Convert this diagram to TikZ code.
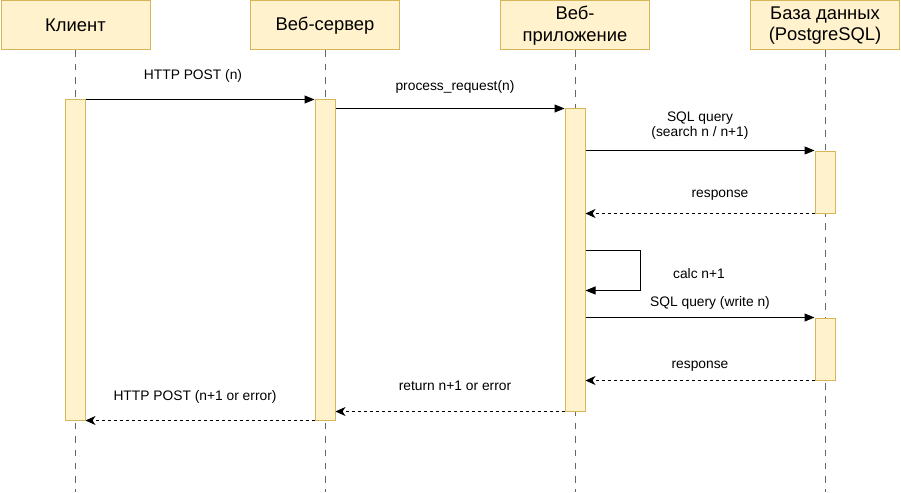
\documentclass[tikz,border=0pt]{standalone}
\usepackage{fontspec}
\setmainfont{Liberation Sans}
\usetikzlibrary{arrows.meta}
\definecolor{boxFill}{HTML}{FFF2CC}
\definecolor{boxLine}{HTML}{D6B656}
\definecolor{lifeGray}{HTML}{666666}

\begin{document}
\begin{tikzpicture}[x=1pt, y=-1pt,
    header/.style={draw=boxLine, fill=boxFill, line width=1pt, minimum width=149pt,
      minimum height=49pt, inner sep=0pt, align=center,
      font=\fontsize{18.4}{21.5}\selectfont},
    activation/.style={draw=boxLine, fill=boxFill, line width=1pt, minimum width=20pt, inner sep=0pt},
    lifeline/.style={lifeGray, line width=1pt, dash pattern=on 6.5pt off 6.8pt},
    msg/.style={line width=1pt, -{Triangle[length=10pt, width=8pt]}},
    reply/.style={line width=1pt, dash pattern=on 3pt off 3pt, -{Stealth[length=10pt, width=9pt, inset=3pt]}},
    lbl/.style={font=\fontsize{13.8}{15.6}\selectfont, align=center, inner sep=0pt}]
  \useasboundingbox (0,0) rectangle (901,492);

  % participants
  \node[header] (client) at (75.5,25.5) {Клиент};
  \node[header] (server) at (325,25.5) {Веб-сервер};
  \node[header] (app) at (575,25.5) {Веб-\\приложение};
  \node[header] (db) at (825,25.5) {База данных\\(PostgreSQL)};

  \coordinate (bottom) at (0,492);
  \draw[lifeline] (client.south) -- (client.south |- bottom);
  \draw[lifeline] (server.south) -- (server.south |- bottom);
  \draw[lifeline] (app.south) -- (app.south |- bottom);
  \draw[lifeline] (db.south) -- (db.south |- bottom);

  % activations
  \node[activation, minimum height=320pt] (clientAct) at (75,260) {};
  \node[activation, minimum height=320pt] (serverAct) at (325,260) {};
  \node[activation, minimum height=302pt] (appAct) at (575,260) {};
  \node[activation, minimum height=62pt] (dbAct1) at (825,182) {};
  \node[activation, minimum height=62pt] (dbAct2) at (825,349) {};

  % messages
  \draw[msg] (clientAct.north east) -- (serverAct.north west);
  \node[lbl] (m1) at (193,76) {HTTP POST (n)};

  \draw[msg] (serverAct.east |- appAct.north) -- (appAct.north west);
  \node[lbl] (m2) at (455,87) {process\_request(n)};

  \draw[msg] (appAct.east |- dbAct1.north) -- (dbAct1.north west);
  \node[lbl] (m3) at (700,125.5) {SQL query\\(search n / n+1)};

  \draw[reply] (dbAct1.south west) -- (appAct.east |- dbAct1.south);
  \node[lbl] (m4) at (720,195) {response};

  \coordinate (loopA) at (640,250);
  \coordinate (loopB) at (640,290.5);
  \draw[msg] (appAct.east |- loopA) -- (loopA) -- (loopB) -- (appAct.east |- loopB);
  \node[lbl] (m5) at (699,274) {calc n+1};

  \draw[msg] (appAct.east |- dbAct2.north) -- (dbAct2.north west);
  \node[lbl] (m6) at (710,303) {SQL query (write n)};

  \draw[reply] (dbAct2.south west) -- (appAct.east |- dbAct2.south);
  \node[lbl] (m7) at (700,366) {response};

  \draw[reply] (appAct.south west) -- (serverAct.east |- appAct.south);
  \node[lbl] (m8) at (455,386) {return n+1 or error};

  \draw[reply] (serverAct.south west) -- (clientAct.south east);
  \node[lbl] (m9) at (195,397) {HTTP POST (n+1 or error)};
\end{tikzpicture}
\end{document}
